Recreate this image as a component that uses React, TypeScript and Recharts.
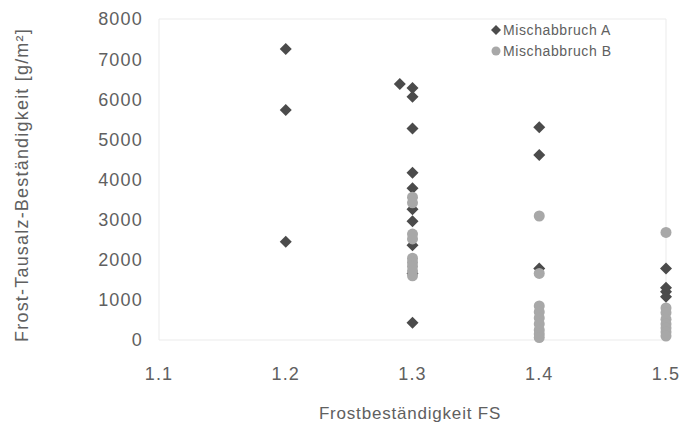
import {
  ScatterChart,
  Scatter,
  XAxis,
  YAxis,
  ReferenceArea,
} from "recharts";

// Frostbeständigkeit FS vs. Frost-Tausalz-Beständigkeit, two demolition mixes
const mischA: [number, number][] = [
  [1.2, 7250],
  [1.2, 5730],
  [1.2, 2450],
  [1.29, 6380],
  [1.3, 6280],
  [1.3, 6060],
  [1.3, 5270],
  [1.3, 4170],
  [1.3, 3780],
  [1.3, 3260],
  [1.3, 2960],
  [1.3, 2360],
  [1.3, 1660],
  [1.3, 430],
  [1.4, 5300],
  [1.4, 4610],
  [1.4, 1780],
  [1.5, 1780],
  [1.5, 1300],
  [1.5, 1200],
  [1.5, 1080],
];

const mischB: [number, number][] = [
  [1.3, 3560],
  [1.3, 3420],
  [1.3, 2640],
  [1.3, 2520],
  [1.3, 2040],
  [1.3, 1940],
  [1.3, 1840],
  [1.3, 1720],
  [1.3, 1600],
  [1.4, 3090],
  [1.4, 1660],
  [1.4, 850],
  [1.4, 700],
  [1.4, 550],
  [1.4, 400],
  [1.4, 250],
  [1.4, 150],
  [1.4, 60],
  [1.5, 2680],
  [1.5, 800],
  [1.5, 680],
  [1.5, 520],
  [1.5, 400],
  [1.5, 300],
  [1.5, 200],
  [1.5, 100],
];

const xTicks = [1.1, 1.2, 1.3, 1.4, 1.5];
const yTicks = [0, 1000, 2000, 3000, 4000, 5000, 6000, 7000, 8000];

const seriesNames = ["Mischabbruch A", "Mischabbruch B"];

const toPoints = (rows: [number, number][]) =>
  rows.map(([fs, val]) => ({ fs, val }));

const FONT = "'Liberation Sans', Arial, sans-serif";
const TEXT = "#606060";
const DARK = "#4b4b4b";
const LIGHT = "#a8a8a8";

const Diamond = (props: any) => {
  const { cx, cy } = props;
  const r = 6;
  return (
    <polygon
      points={`${cx},${cy - r} ${cx + r},${cy} ${cx},${cy + r} ${cx - r},${cy}`}
      fill={DARK}
    />
  );
};

const Dot = (props: any) => {
  const { cx, cy } = props;
  return <circle cx={cx} cy={cy} r={5.5} fill={LIGHT} />;
};

// legend sits inside the plot, top right
const LegendBox = () => (
  <div
    style={{
      position: "absolute",
      left: 490,
      top: 19,
      fontFamily: FONT,
      fontSize: 14,
      color: TEXT,
      letterSpacing: 0.6,
    }}
  >
    <div style={{ display: "flex", alignItems: "center", height: 21 }}>
      <svg width={12} height={12} style={{ marginRight: 1 }}>
        <polygon points="6,1 11,6 6,11 1,6" fill={DARK} />
      </svg>
      {seriesNames[0]}
    </div>
    <div style={{ display: "flex", alignItems: "center", height: 21 }}>
      <svg width={12} height={12} style={{ marginRight: 1 }}>
        <circle cx={6} cy={6} r={4.5} fill={LIGHT} />
      </svg>
      {seriesNames[1]}
    </div>
  </div>
);

export default function App() {
  return (
    <div
      style={{
        position: "absolute",
        left: 0,
        top: 0,
        width: 684,
        height: 423,
        background: "#fff",
      }}
    >
      <ScatterChart
        width={684}
        height={423}
        margin={{ top: 19, right: 18, bottom: 13, left: 10 }}
      >
        <ReferenceArea
          x1={1.1}
          x2={1.5}
          y1={0}
          y2={8000}
          fill="none"
          stroke="#ebebeb"
          strokeWidth={1}
        />
        <XAxis
          type="number"
          dataKey="fs"
          domain={[1.1, 1.5]}
          ticks={xTicks}
          tickFormatter={(v: number) => v.toFixed(1)}
          axisLine={false}
          tickLine={false}
          tickSize={0}
          tickMargin={27}
          height={70}
          tick={{ fill: TEXT, fontSize: 18, fontFamily: FONT, letterSpacing: 1.2 }}
          label={{
            content: () => (
              <text
                x={410}
                y={419}
                textAnchor="middle"
                fill={TEXT}
                fontSize={17}
                fontFamily={FONT}
                letterSpacing={0.8}
              >
                Frostbeständigkeit FS
              </text>
            ),
          }}
        />
        <YAxis
          type="number"
          dataKey="val"
          domain={[0, 8000]}
          ticks={yTicks}
          axisLine={false}
          tickLine={false}
          tickSize={0}
          tickMargin={16}
          width={149}
          tick={{ fill: TEXT, fontSize: 18, fontFamily: FONT, letterSpacing: 1.2 }}
          label={{
            content: () => (
              <text
                x={22}
                y={185}
                transform="rotate(-90 22 185)"
                textAnchor="middle"
                dominantBaseline="central"
                fill={TEXT}
                fontSize={18}
                fontFamily={FONT}
                letterSpacing={1.2}
              >
                Frost-Tausalz-Beständigkeit [g/m²]
              </text>
            ),
          }}
        />
        <Scatter
          name={seriesNames[0]}
          data={toPoints(mischA)}
          fill={DARK}
          shape={Diamond}
          isAnimationActive={false}
        />
        <Scatter
          name={seriesNames[1]}
          data={toPoints(mischB)}
          fill={LIGHT}
          shape={Dot}
          isAnimationActive={false}
        />
      </ScatterChart>
      <LegendBox />
    </div>
  );
}
